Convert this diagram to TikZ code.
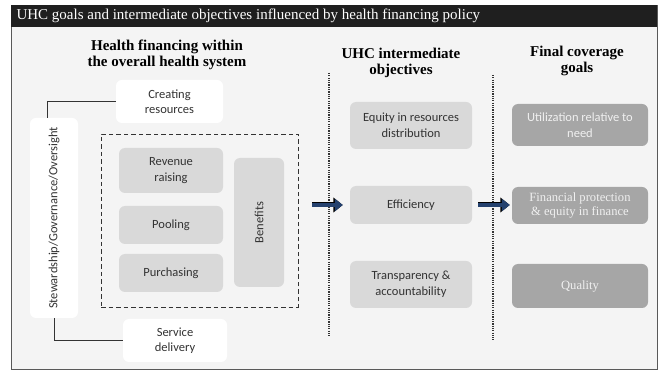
\documentclass[tikz,border=0pt]{standalone}
\usepackage{fontspec}
\setmainfont{Liberation Serif}
\newfontfamily\calibri{Carlito}
\usetikzlibrary{arrows.meta}
\definecolor{panel}{HTML}{F4F4F4}
\definecolor{lightbox}{HTML}{D9D9D9}
\definecolor{darkbox}{HTML}{A6A6A6}
\definecolor{ink}{HTML}{333333}
\definecolor{navy}{HTML}{24416E}
\tikzset{
  whitebox/.style={draw=none, fill=white, rounded corners=6pt, align=center,
    font=\calibri\fontsize{12.5}{15}\selectfont, text=ink},
  greybox/.style={draw=none, fill=lightbox, rounded corners=6pt, align=center,
    font=\calibri\fontsize{12.5}{16}\selectfont, text=ink},
  goalbox/.style={draw=none, fill=darkbox, rounded corners=6pt, align=center,
    text=white!94!black},
  heading/.style={align=center, font=\bfseries\fontsize{15}{16.5}\selectfont},
  link/.style={draw=ink, line width=0.8pt},
  dotline/.style={draw=ink, line width=1.3pt, dash pattern=on 1.2pt off 1.1pt},
  bigarrow/.style={draw=navy, line width=3.6pt, -{Triangle[length=8pt,width=12pt]},
    preaction={draw=black, line width=5pt, -{Triangle[length=9.5pt,width=14.5pt]}}}
}

\begin{document}
\begin{tikzpicture}[x=1pt, y=-1pt]
  \useasboundingbox (0, 0) rectangle (659, 371);
  \draw [draw=black!65, fill=panel, line width=0.8pt] (11, 5) rectangle (657, 369);
  \fill [black!88] (11, 5) rectangle (657, 27);
  \node [anchor=west, text=white, font=\fontsize{15}{16}\selectfont] (title) at (13, 16)
    {UHC goals and intermediate objectives influenced by health financing policy};

  \node [heading] (hfin) at (167, 55) {Health financing within\\the overall health system};
  \node [heading] (hmid) at (401, 63) {UHC intermediate\\objectives};
  \node [heading] (hgoal) at (577, 61) {Final coverage\\goals};

  % health system side
  \node [whitebox, minimum width=107pt, minimum height=43pt] (cres) at (169.5, 101.5) {Creating\\resources};
  \node [whitebox, minimum width=200pt, minimum height=48pt, rotate=90] (stew) at (54, 218)
    {Stewardship/Governance/Oversight};
  \node [whitebox, minimum width=104pt, minimum height=43pt] (sdel) at (175, 340.5) {Service\\delivery};
  \node [draw=ink, dash pattern=on 4.5pt off 3pt, line width=0.9pt, minimum width=197pt, minimum height=173pt] (fin) at (199.5, 220.5) {};
  \node [greybox, minimum width=104pt, minimum height=45pt] (rev) at (171, 170.5) {Revenue\\raising};
  \node [greybox, minimum width=104pt, minimum height=38pt] (pool) at (171, 225) {Pooling};
  \node [greybox, minimum width=104pt, minimum height=38pt] (purch) at (171, 273) {Purchasing};
  \node [greybox, minimum width=129pt, minimum height=50pt, rotate=90] (ben) at (259, 222.5) {Benefits};
  \draw [link] (cres.west) -| ([xshift=-7pt]stew.east);
  \draw [link] (stew.west) |- (sdel.west);

  % intermediate objectives
  \node [greybox, minimum width=122pt, minimum height=47pt] (equ) at (411, 125.5) {Equity in resources\\distribution};
  \node [greybox, minimum width=122pt, minimum height=38pt] (eff) at (411, 205) {Efficiency};
  \node [greybox, minimum width=122pt, minimum height=47pt] (trans) at (411, 284.5) {Transparency \&\\accountability};

  % final goals
  \node [goalbox, font=\calibri\fontsize{12.5}{16}\selectfont, minimum width=136pt, minimum height=42pt] (util) at (580, 125)
    {Utilization relative to\\need};
  \node [goalbox, font=\fontsize{12.6}{13.5}\selectfont, minimum width=136pt, minimum height=37pt] (fprot) at (580, 205.5)
    {Financial protection\\\& equity in finance};
  \node [goalbox, font=\fontsize{12.6}{13.5}\selectfont, minimum width=136pt, minimum height=44pt] (qual) at (580, 286) {Quality};

  \coordinate (d1a) at (329, 73);
  \coordinate (d1b) at (329, 337);
  \coordinate (d2a) at (493, 75);
  \coordinate (d2b) at (493, 340);
  \draw [dotline] (d1a) -- (d1b);
  \draw [dotline] (d2a) -- (d2b);

  \draw [bigarrow, shorten <=14pt, shorten >=7pt] (fin.east |- eff.west) -- (eff.west);
  \draw [bigarrow, shorten <=6pt, shorten >=2pt] (eff.east) -- (eff.east -| fprot.west);

\end{tikzpicture}
\end{document}
